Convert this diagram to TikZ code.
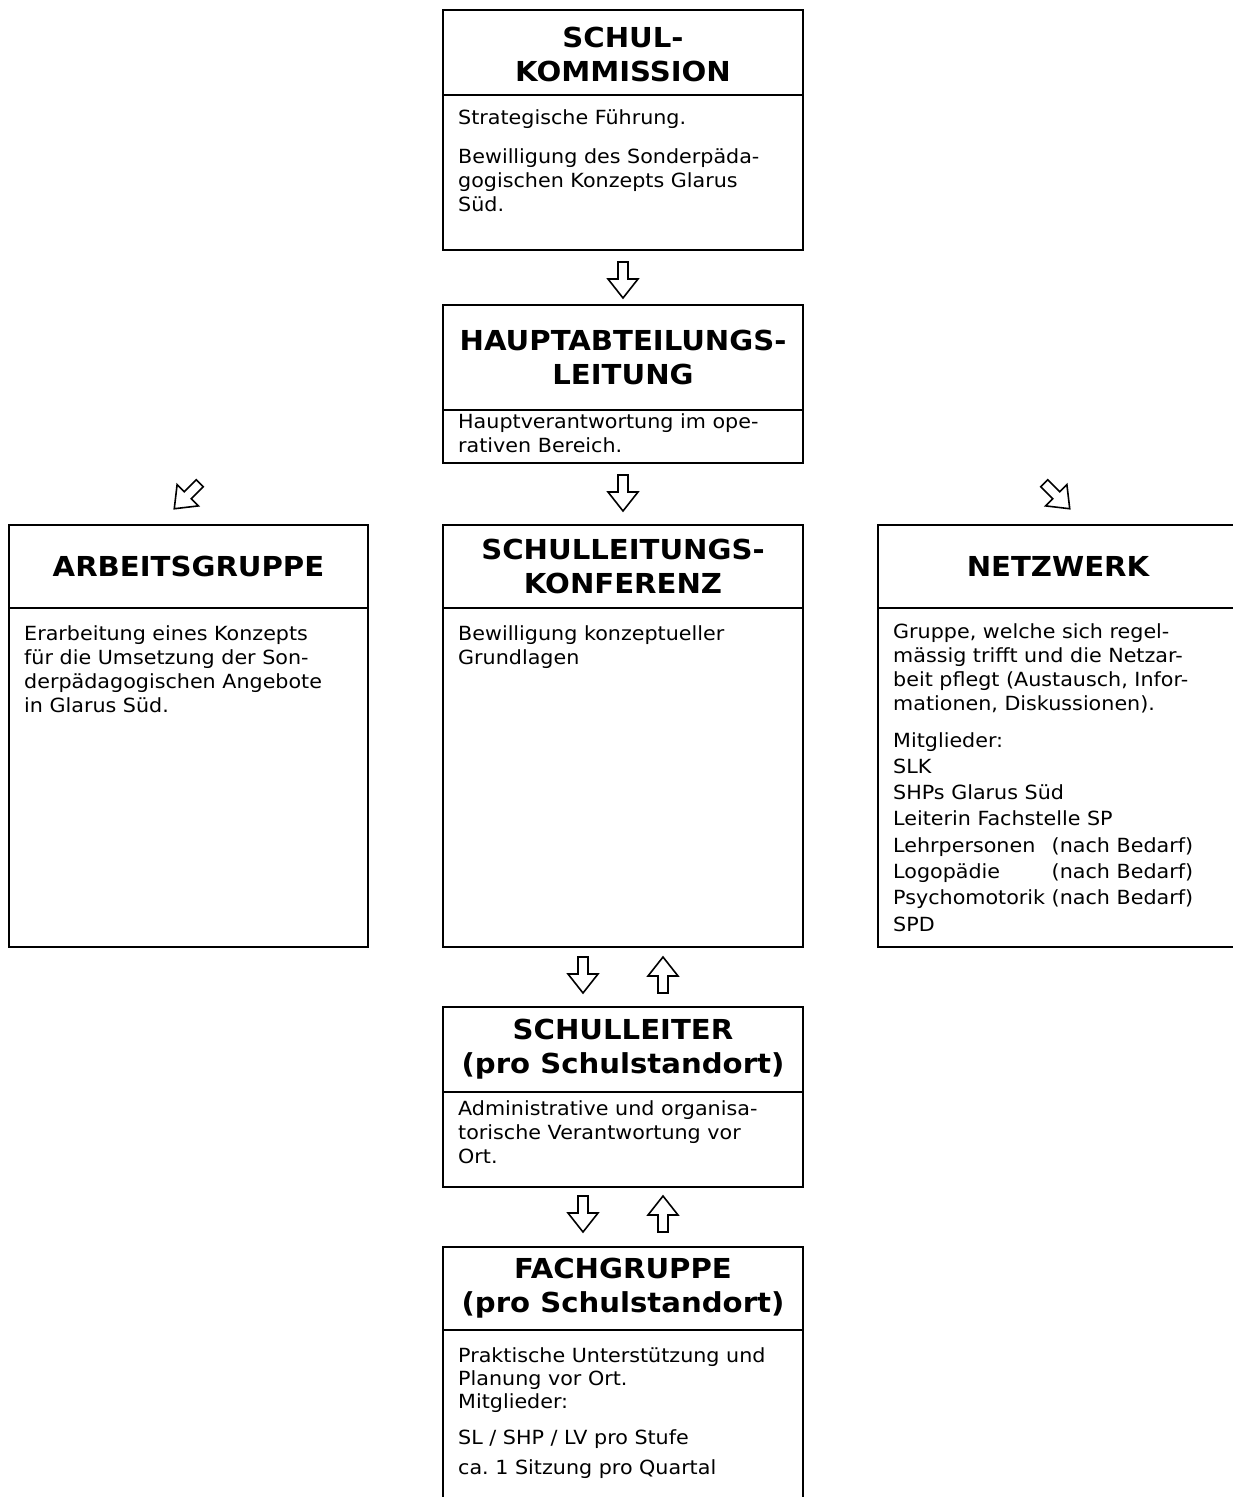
\documentclass[tikz,border=0pt]{standalone}
\usepackage{fontspec}
\setmainfont{DejaVu Sans}[FakeStretch=1.06]
\frenchspacing
\newlength\nbw
\newcommand\bodytext[2][24]{{\fontsize{19.5}{#1}\selectfont\settowidth{\nbw}{Psychomotorik\ }\begin{tabular}[t]{@{}l@{}}#2\end{tabular}}}
\newcommand\nbitem[1]{\makebox[\nbw][l]{#1}(nach Bedarf)}
\tikzset{
  box/.style={draw, line width=2pt},
  head/.style={font=\bfseries\fontsize{27.5}{34}\selectfont, align=center, inner sep=0pt},
  body/.style={anchor=base west, inner sep=0pt},
  barrow/.pic={\draw[line width=1.6pt, line join=miter] (-5,-18)--(5,-18)--(5,-1)--(15,-1)--(0,18)--(-15,-1)--(-5,-1)--cycle;}
}
\begin{document}
\begin{tikzpicture}[x=1pt,y=-1pt]
\useasboundingbox[fill=white] (0,0) rectangle (1233,1497);
% Schulkommission
\draw[box] (443,10) rectangle (803,250);
\draw[box] (443,95) -- (803,95);
\node[head] (skh) at (623,54) {SCHUL-\\KOMMISSION};
\node[body] (skb) at (458,124) {\bodytext{Strategische Führung.\\[15pt]Bewilligung des Sonderpäda-\\gogischen Konzepts Glarus\\Süd.}};
\pic at (623,280) {barrow};
% Hauptabteilungsleitung
\draw[box] (443,305) rectangle (803,463);
\draw[box] (443,410) -- (803,410);
\node[head] (hah) at (623,357.5) {HAUPTABTEILUNGS-\\LEITUNG};
\node[body] (hab) at (458,428) {\bodytext{Hauptverantwortung im ope-\\rativen Bereich.}};
\pic at (623,493) {barrow};
\pic[rotate=-45] at (187,496) {barrow};
\pic[rotate=45] at (1057,496) {barrow};
% Arbeitsgruppe
\draw[box] (9,525) rectangle (368,947);
\draw[box] (9,608) -- (368,608);
\node[head] (agh) at (188.5,566.5) {ARBEITSGRUPPE};
\node[body] (agb) at (24,640) {\bodytext{Erarbeitung eines Konzepts\\für die Umsetzung der Son-\\derpädagogischen Angebote\\in Glarus Süd.}};
% Schulleitungskonferenz
\draw[box] (443,525) rectangle (803,947);
\draw[box] (443,608) -- (803,608);
\node[head] (slkh) at (623,566.5) {SCHULLEITUNGS-\\KONFERENZ};
\node[body] (slkb) at (458,640) {\bodytext{Bewilligung konzeptueller\\Grundlagen}};
% Netzwerk
\draw[box] (1233,525) -- (878,525) -- (878,947) -- (1233,947);
\draw[box] (878,608) -- (1233,608);
\node[head] (nwh) at (1058,566.5) {NETZWERK};
\node[body] (nwb) at (893,638) {\bodytext{Gruppe, welche sich regel-\\mässig trifft und die Netzar-\\beit pflegt (Austausch, Infor-\\mationen, Diskussionen).\\[13pt]Mitglieder:\\[2.3pt]SLK\\[2.3pt]SHPs Glarus Süd\\[2.3pt]Leiterin Fachstelle SP\\[2.3pt]\nbitem{Lehrpersonen}\\[2.3pt]\nbitem{Logopädie}\\[2.3pt]\nbitem{Psychomotorik}\\[2.3pt]SPD}};
\pic at (583,975) {barrow};
\pic[rotate=180] at (663,975) {barrow};
% Schulleiter
\draw[box] (443,1007) rectangle (803,1187);
\draw[box] (443,1092) -- (803,1092);
\node[head] (slh) at (623,1049.5) {SCHULLEITER\\(pro Schulstandort)};
\node[body] (slb) at (458,1115) {\bodytext{Administrative und organisa-\\torische Verantwortung vor\\Ort.}};
\pic at (583,1214) {barrow};
\pic[rotate=180] at (663,1214) {barrow};
% Fachgruppe
\draw[box] (443,1497) -- (443,1247) -- (803,1247) -- (803,1497);
\draw[box] (443,1330) -- (803,1330);
\node[head] (fgh) at (623,1288.5) {FACHGRUPPE\\(pro Schulstandort)};
\node[body] (fgb) at (458,1362) {\bodytext[23]{Praktische Unterstützung und\\Planung vor Ort.\\Mitglieder:\\[13pt]SL / SHP / LV pro Stufe\\[7pt]ca. 1 Sitzung pro Quartal}};
\end{tikzpicture}
\end{document}
